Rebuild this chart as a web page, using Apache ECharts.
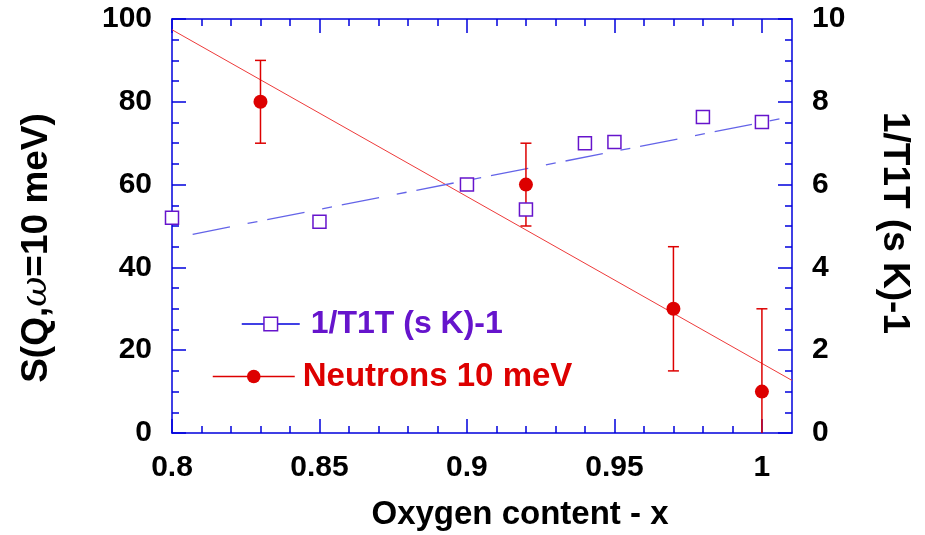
<!DOCTYPE html>
<html><head><meta charset="utf-8">
<script src="https://cdn.jsdelivr.net/npm/echarts@6/dist/echarts.min.js"></script>
<style>html,body{margin:0;padding:0;background:#fff}#c{width:925px;height:535px}</style>
</head><body><div id="c"></div>
<script>
// ---- data ----
const oxygenNeutron = [0.83, 0.92, 0.97, 1.0];
const neutronS = [80, 60, 30, 10];
const neutronErrLow = [70, 50, 15, -10];
const neutronErrHigh = [90, 70, 45, 30];

const oxygenNMR = [0.8, 0.85, 0.9, 0.92, 0.94, 0.95, 0.98, 1.0];
const nmrRate = [5.2, 5.1, 6.0, 5.4, 7.0, 7.03, 7.63, 7.51];

const neutronFitX = [0.8, 1.0102];
const neutronFitY = [97.4, 12.7];
const nmrFitX = [0.807, 1.007];
const nmrFitY = [4.8, 7.6];

const xMajorTicks = [0.8, 0.85, 0.9, 0.95, 1.0];
const xMinorTicks = [0.81, 0.82, 0.83, 0.84, 0.86, 0.87, 0.88, 0.89, 0.91, 0.92, 0.93, 0.94, 0.96, 0.97, 0.98, 0.99];

const nameNMR = '1/T1T (s K)-1';
const nameNeutron = 'Neutrons 10 meV';

// ---- style ----
const FONT = '"Liberation Sans", Arial, sans-serif';
const BLUE = '#0000dd';
const RED = '#dd0000';
const PURPLE = '#6614cc';
const X_MIN = 0.8, X_MAX = 1.0102;

function xAxisDef(position, ticks, len, showLine, showLabel, extra) {
  return Object.assign({
    type: 'value', position: position, min: X_MIN, max: X_MAX,
    axisLine: { show: showLine, onZero: false, lineStyle: { color: BLUE, width: 1.5 } },
    axisTick: { show: true, inside: true, length: len, customValues: ticks, lineStyle: { color: BLUE, width: 1.5 } },
    axisLabel: showLabel ? { show: true, customValues: ticks, margin: 20, color: '#000', fontSize: 30, fontWeight: 'bold', fontFamily: FONT } : { show: false },
    splitLine: { show: false }
  }, extra || {});
}

const chart = echarts.init(document.getElementById('c'), null, { renderer: 'canvas' });
chart.setOption({
  animation: false,
  backgroundColor: '#fff',
  grid: { left: 172, top: 19, right: 133, bottom: 102, containLabel: false, outerBoundsMode: 'none' },
  xAxis: [
    xAxisDef('bottom', xMajorTicks, 14, true, true, {
      name: 'Oxygen content - x', nameLocation: 'middle', nameGap: 65,
      nameTextStyle: { color: '#000', fontSize: 33, fontWeight: 'bold', fontFamily: FONT, padding: [0, 0, 0, 76] }
    }),
    xAxisDef('bottom', xMinorTicks, 7, false, false),
    xAxisDef('top', xMajorTicks, 14, true, false),
    xAxisDef('top', xMinorTicks, 7, false, false)
  ],
  yAxis: [
    {
      type: 'value', position: 'left', min: 0, max: 100, interval: 20,
      axisLine: { show: true, onZero: false, lineStyle: { color: BLUE, width: 1.5 } },
      axisTick: { show: true, inside: true, length: 14, lineStyle: { color: BLUE, width: 1.5 } },
      minorTick: { show: true, splitNumber: 4, length: 7, lineStyle: { color: BLUE, width: 1.5 } },
      axisLabel: { margin: 20, color: '#000', fontSize: 30, fontWeight: 'bold', fontFamily: FONT },
      splitLine: { show: false },
      name: 'S(Q,{w|ω}=10 meV)', nameLocation: 'middle', nameRotate: 90, nameGap: 117,
      nameTextStyle: {
        color: '#000', fontSize: 37, fontWeight: 'bold', fontFamily: FONT, padding: [0, 44, 0, 0],
        rich: { w: { fontFamily: '"DejaVu Serif", serif', fontStyle: 'italic', fontWeight: 'normal', fontSize: 37, color: '#000' } }
      }
    },
    {
      type: 'value', position: 'right', min: 0, max: 10, interval: 2,
      axisLine: { show: true, onZero: false, lineStyle: { color: BLUE, width: 1.5 } },
      axisTick: { show: true, inside: true, length: 14, lineStyle: { color: BLUE, width: 1.5 } },
      minorTick: { show: true, splitNumber: 4, length: 7, lineStyle: { color: BLUE, width: 1.5 } },
      axisLabel: { margin: 20, color: '#000', fontSize: 30, fontWeight: 'bold', fontFamily: FONT },
      splitLine: { show: false },
      name: nameNMR, nameLocation: 'middle', nameRotate: -90, nameGap: 84,
      nameTextStyle: { color: '#000', fontSize: 37, fontWeight: 'bold', fontFamily: FONT, padding: [0, 6, 0, 0] }
    }
  ],
  legend: [
    {
      data: [nameNMR], left: 241, top: 308, padding: 0, itemWidth: 58, itemHeight: 17, selectedMode: false,
      lineStyle: { color: BLUE, width: 1.5, opacity: 1, type: 'solid' },
      itemStyle: { color: '#fff', borderColor: PURPLE, borderWidth: 1.5 },
      textStyle: { color: PURPLE, fontSize: 32, fontWeight: 'bold', fontFamily: FONT, padding: [0, 0, 0, 6] }
    },
    {
      data: [nameNeutron], left: 212, top: 360, padding: 0, itemWidth: 82, itemHeight: 17, selectedMode: false,
      lineStyle: { color: RED, width: 1.5, opacity: 1, type: 'solid' },
      itemStyle: { color: RED, borderWidth: 0 },
      textStyle: { color: RED, fontSize: 33, fontWeight: 'bold', fontFamily: FONT, padding: [0, 0, 0, 3] }
    }
  ],
  series: [
    {
      name: 'errorbars', type: 'custom', xAxisIndex: 0, yAxisIndex: 0, clip: true, z: 3, silent: true,
      data: oxygenNeutron.map((x, i) => [x, neutronErrLow[i], neutronErrHigh[i]]),
      renderItem: function (params, api) {
        const x = api.value(0);
        const lo = api.coord([x, api.value(1)]);
        const hi = api.coord([x, api.value(2)]);
        const cap = 5.5;
        const st = { stroke: RED, lineWidth: 1.5 };
        return {
          type: 'group', children: [
            { type: 'line', shape: { x1: lo[0], y1: lo[1], x2: hi[0], y2: hi[1] }, style: st },
            { type: 'line', shape: { x1: hi[0] - cap, y1: hi[1], x2: hi[0] + cap, y2: hi[1] }, style: st },
            { type: 'line', shape: { x1: lo[0] - cap, y1: lo[1], x2: lo[0] + cap, y2: lo[1] }, style: st }
          ]
        };
      }
    },
    {
      name: 'neutronFit', type: 'line', xAxisIndex: 0, yAxisIndex: 0, symbol: 'none', silent: true, z: 2,
      data: neutronFitX.map((x, i) => [x, neutronFitY[i]]),
      lineStyle: { color: '#ee3a3a', width: 1 }
    },
    {
      name: 'nmrFit', type: 'line', xAxisIndex: 0, yAxisIndex: 1, symbol: 'none', silent: true, z: 2,
      data: nmrFitX.map((x, i) => [x, nmrFitY[i]]),
      lineStyle: { color: '#6464e8', width: 1.3, type: [38, 18, 10, 10] }
    },
    {
      name: nameNMR, type: 'line', xAxisIndex: 0, yAxisIndex: 1, symbol: 'rect', symbolSize: 13, z: 5,
      showSymbol: true, showAllSymbol: true,
      data: oxygenNMR.map((x, i) => [x, nmrRate[i]]),
      itemStyle: { color: '#fff', borderColor: PURPLE, borderWidth: 1.5 },
      lineStyle: { opacity: 0, width: 0 }
    },
    {
      name: nameNeutron, type: 'line', xAxisIndex: 0, yAxisIndex: 0, symbol: 'circle', symbolSize: 14, z: 6,
      showSymbol: true, showAllSymbol: true,
      data: oxygenNeutron.map((x, i) => [x, neutronS[i]]),
      itemStyle: { color: RED, borderWidth: 0 },
      lineStyle: { opacity: 0, width: 0 }
    }
  ]
});
</script>
</body></html>
